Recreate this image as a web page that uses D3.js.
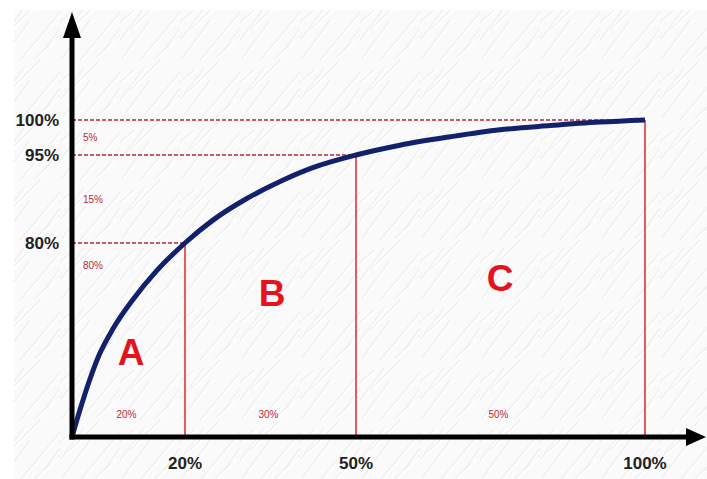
<!DOCTYPE html>
<html>
<head>
<meta charset="utf-8">
<script src="https://cdn.jsdelivr.net/npm/d3@7"></script>
<style>
  body { margin: 0; background: #fff; }
  svg { display: block; }
</style>
</head>
<body>
<svg id="chart" width="707" height="479"></svg>
<script>
// cumulative share of value (y) against share of items (x)
var curveX = [0, 1.4, 3.0, 4.8, 7.3, 10.8, 15.0, 20, 24.9, 30.7, 36.5, 42.3, 50, 57.6, 66.3, 74.9, 83.6, 92.2, 100];
var curveY = [0, 11.1, 22.7, 33.8, 44.8, 56.7, 68.6, 80, 83.9, 87.5, 90.4, 92.8, 95, 96.4, 97.6, 98.6, 99.2, 99.7, 100];

var xTicks = [20, 50, 100];
var yTicks = [80, 95, 100];
var classes = ["A", "B", "C"];
var classShares = ["20%", "30%", "50%"];      // share of items per class
var valueShares = ["80%", "15%", "5%"];       // share of value per class

var svg = d3.select("#chart");

// the picture's axes are not to scale, so the scales are piecewise
var x = d3.scaleLinear().domain([0, 20, 50, 100]).range([72, 185, 356, 645]);
var y = d3.scaleLinear().domain([0, 80, 95, 100]).range([437, 243, 155, 120]);

// textured paper background
var defs = svg.append("defs");
var pat = defs.append("pattern")
    .attr("id", "paper")
    .attr("patternUnits", "userSpaceOnUse")
    .attr("width", 60).attr("height", 60);
pat.append("rect").attr("width", 60).attr("height", 60).attr("fill", "#fafafa");
[[2, 58, 30, 20], [20, 60, 60, 12], [0, 40, 24, 8], [35, 58, 60, 35], [10, 30, 40, 0], [44, 50, 60, 28], [0, 22, 14, 10]].forEach(function (l) {
    pat.append("line")
        .attr("x1", l[0]).attr("y1", l[1]).attr("x2", l[2]).attr("y2", l[3])
        .attr("stroke", "#e6e6e6").attr("stroke-width", 0.8);
    pat.append("line")
        .attr("x1", l[0] + 3).attr("y1", l[1]).attr("x2", l[2] + 3).attr("y2", l[3])
        .attr("stroke", "#ffffff").attr("stroke-width", 1.2);
});
svg.append("rect")
    .attr("x", 14).attr("y", 10).attr("width", 693).attr("height", 469)
    .attr("fill", "url(#paper)");

var g = svg.append("g");

// red guide lines: dashed horizontals and solid verticals
var pairs = xTicks.map(function (d, i) { return { x: d, y: yTicks[i] } });

g.selectAll("line.hguide").data(pairs).enter().append("line")
    .attr("class", "hguide")
    .attr("x1", x(0)).attr("x2", function (d) { return x(d.x) })
    .attr("y1", function (d) { return y(d.y) }).attr("y2", function (d) { return y(d.y) })
    .attr("stroke", "#b3273a").attr("stroke-width", 1.5)
    .attr("stroke-dasharray", "4,2");

g.selectAll("line.vguide").data(pairs).enter().append("line")
    .attr("class", "vguide")
    .attr("x1", function (d) { return x(d.x) }).attr("x2", function (d) { return x(d.x) })
    .attr("y1", function (d) { return y(d.y) }).attr("y2", y(0))
    .attr("stroke", "#e3242b").attr("stroke-width", 1.5);

// the curve
var line = d3.line()
    .x(function (d) { return x(d[0]) })
    .y(function (d) { return y(d[1]) })
    .curve(d3.curveMonotoneX);

g.append("path")
    .datum(curveX.map(function (d, i) { return [d, curveY[i]] }))
    .attr("d", line)
    .attr("fill", "none")
    .attr("stroke", "#13206b")
    .attr("stroke-width", 5)
    .attr("stroke-linecap", "butt");

// axes with arrow heads
g.append("line")
    .attr("x1", x(0)).attr("y1", y(0) + 2.5).attr("x2", x(0)).attr("y2", 34)
    .attr("stroke", "#000").attr("stroke-width", 5);
g.append("path")
    .attr("d", "M" + (x(0) - 9) + ",38 L" + x(0) + ",12 L" + (x(0) + 9) + ",38 Z")
    .attr("fill", "#000");
g.append("line")
    .attr("x1", x(0) - 2.5).attr("y1", y(0)).attr("x2", 690).attr("y2", y(0))
    .attr("stroke", "#000").attr("stroke-width", 5);
g.append("path")
    .attr("d", "M686," + (y(0) - 9) + " L706," + y(0) + " L686," + (y(0) + 9) + " Z")
    .attr("fill", "#000");

// tick labels
g.selectAll("text.ylab").data(yTicks).enter().append("text")
    .attr("class", "ylab")
    .attr("x", 59).attr("y", function (d) { return y(d) + 6 })
    .attr("text-anchor", "end")
    .style("font", "bold 17px Arial, 'Liberation Sans', sans-serif")
    .style("fill", "#222")
    .text(function (d) { return d + "%" });

g.selectAll("text.xlab").data(xTicks).enter().append("text")
    .attr("class", "xlab")
    .attr("x", function (d) { return x(d) }).attr("y", 469)
    .attr("text-anchor", "middle")
    .style("font", "bold 17px Arial, 'Liberation Sans', sans-serif")
    .style("fill", "#222")
    .text(function (d) { return d + "%" });

// small share labels
var bounds = [0].concat(xTicks);
g.selectAll("text.xshare").data(classShares).enter().append("text")
    .attr("class", "xshare")
    .attr("x", function (d, i) { return (x(bounds[i]) + x(bounds[i + 1])) / 2 - 2 })
    .attr("y", 418)
    .attr("text-anchor", "middle")
    .style("font", "10px Arial, 'Liberation Sans', sans-serif")
    .style("fill", "#c0283a")
    .text(function (d) { return d });

var yShareAt = [265, 199, 137];
g.selectAll("text.yshare").data(valueShares).enter().append("text")
    .attr("class", "yshare")
    .attr("x", 83).attr("y", function (d, i) { return yShareAt[i] + 4 })
    .style("font", "10px Arial, 'Liberation Sans', sans-serif")
    .style("fill", "#c0283a")
    .text(function (d) { return d });

// class letters
var letterAt = [[131, 352], [272, 293], [500, 278]];
g.selectAll("text.cls").data(classes).enter().append("text")
    .attr("class", "cls")
    .attr("x", function (d, i) { return letterAt[i][0] })
    .attr("y", function (d, i) { return letterAt[i][1] + 13 })
    .attr("text-anchor", "middle")
    .style("font", "bold 37px Arial, 'Liberation Sans', sans-serif")
    .style("fill", "#e5141c")
    .text(function (d) { return d });
</script>
</body>
</html>
